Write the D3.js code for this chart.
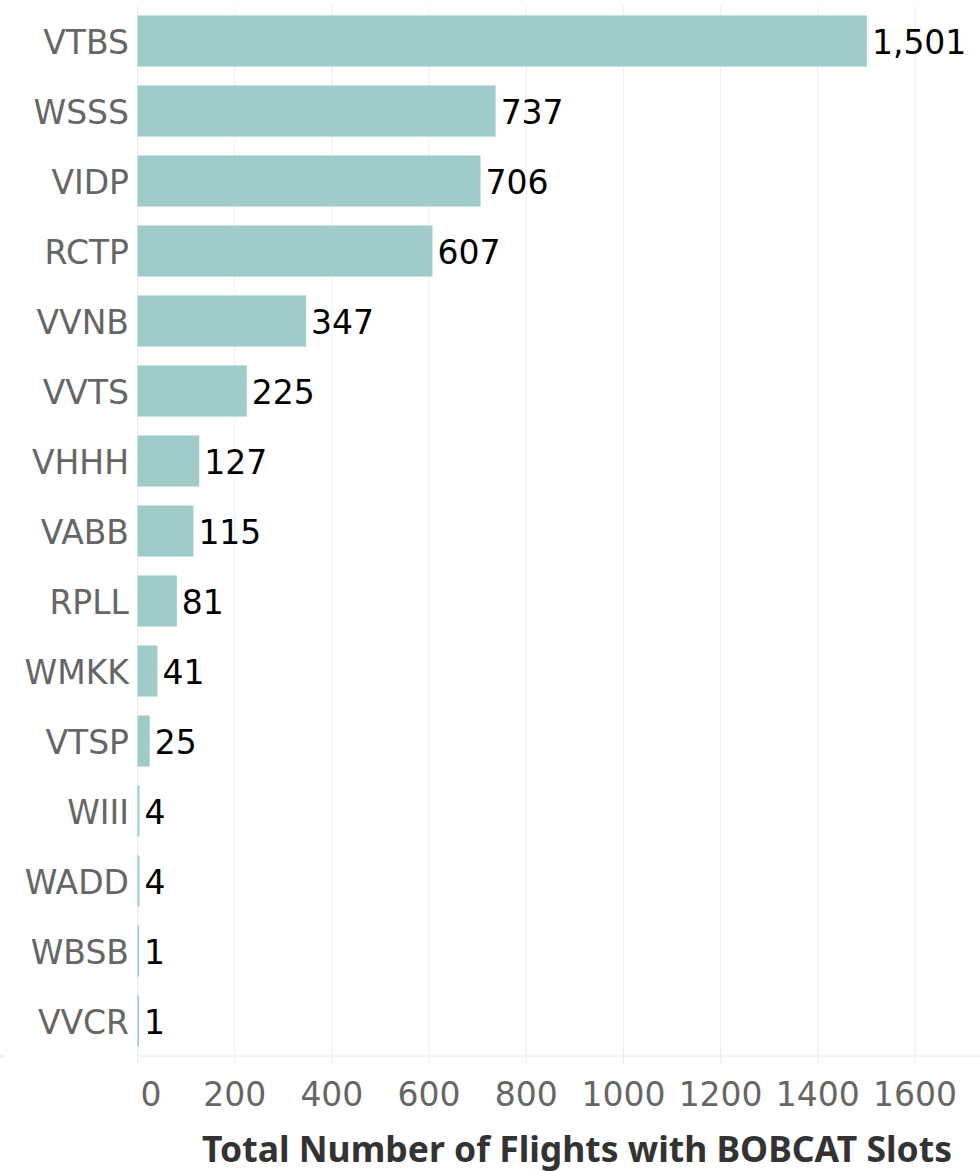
<!DOCTYPE html>
<html>
<head>
<meta charset="utf-8">
<script src="https://cdn.jsdelivr.net/npm/d3@7"></script>
<style>
  body { margin: 0; background: #fff; }
  svg { display: block; font-family: "DejaVu Sans", sans-serif; }
</style>
</head>
<body>
<svg id="chart" width="980" height="1171"></svg>
<script>
const airports = ["VTBS","WSSS","VIDP","RCTP","VVNB","VVTS","VHHH","VABB","RPLL","WMKK","VTSP","WIII","WADD","WBSB","VVCR"];
const flights = [1501,737,706,607,347,225,127,115,81,41,25,4,4,1,1];
const xTicks = [0,200,400,600,800,1000,1200,1400,1600];
const axisTitle = "Total Number of Flights with BOBCAT Slots";

const w = 980, h = 1171;
const plotLeft = 137.5, plotTop = 6, plotBottom = 1056;

const svg = d3.select("#chart");

const x = d3.scaleLinear().domain([0, 1600]).range([plotLeft, 915]);
const y = d3.scaleBand().domain(airports).range([plotTop, plotBottom]).paddingInner(0.27).paddingOuter(0.135);

// gridlines
svg.append("g")
  .selectAll("line")
  .data(xTicks)
  .join("line")
  .attr("x1", d => x(d)).attr("x2", d => x(d))
  .attr("y1", plotTop).attr("y2", plotBottom + 7)
  .attr("stroke", "#ececec")
  .attr("stroke-width", 1);

// baseline
svg.append("line")
  .attr("x1", plotLeft).attr("x2", w)
  .attr("y1", plotBottom).attr("y2", plotBottom)
  .attr("stroke", "#ececec");
svg.append("line")
  .attr("x1", 0).attr("x2", 4)
  .attr("y1", plotBottom).attr("y2", plotBottom)
  .attr("stroke", "#e4e4e4");

// bars
const data = airports.map((a, i) => ({ a, v: flights[i] }));
svg.append("g")
  .selectAll("rect")
  .data(data)
  .join("rect")
  .attr("x", x(0))
  .attr("y", d => y(d.a))
  .attr("width", d => Math.max(1.5, x(d.v) - x(0)))
  .attr("height", y.bandwidth())
  .attr("fill", "#9fccc8");

// value labels
svg.append("g")
  .selectAll("text")
  .data(data)
  .join("text")
  .attr("x", d => Math.max(x(d.v), x(0) + 1.5) + 5)
  .attr("y", d => y(d.a) + y.bandwidth() / 2)
  .attr("dy", "0.40em")
  .attr("font-size", 33)
  .attr("fill", "#000")
  .text(d => d3.format(",")(d.v));

// category labels
svg.append("g")
  .selectAll("text")
  .data(airports)
  .join("text")
  .attr("x", 129)
  .attr("y", d => y(d) + y.bandwidth() / 2)
  .attr("dy", "0.40em")
  .attr("text-anchor", "end")
  .attr("font-size", 33)
  .attr("fill", "#666")
  .text(d => d);

// tick labels
svg.append("g")
  .selectAll("text")
  .data(xTicks)
  .join("text")
  .attr("x", d => d === 0 ? x(d) + 3 : x(d))
  .attr("y", 1106)
  .attr("text-anchor", d => d === 0 ? "start" : "middle")
  .attr("font-size", 33)
  .attr("fill", "#666")
  .text(d => d);

// axis title
svg.append("text")
  .attr("x", 577)
  .attr("y", 1162)
  .attr("text-anchor", "middle")
  .attr("font-family", "'Noto Sans', 'Open Sans', sans-serif")
  .attr("font-size", 35.5)
  .attr("font-weight", "bold")
  .attr("fill", "#333")
  .text(axisTitle);
</script>
</body>
</html>
